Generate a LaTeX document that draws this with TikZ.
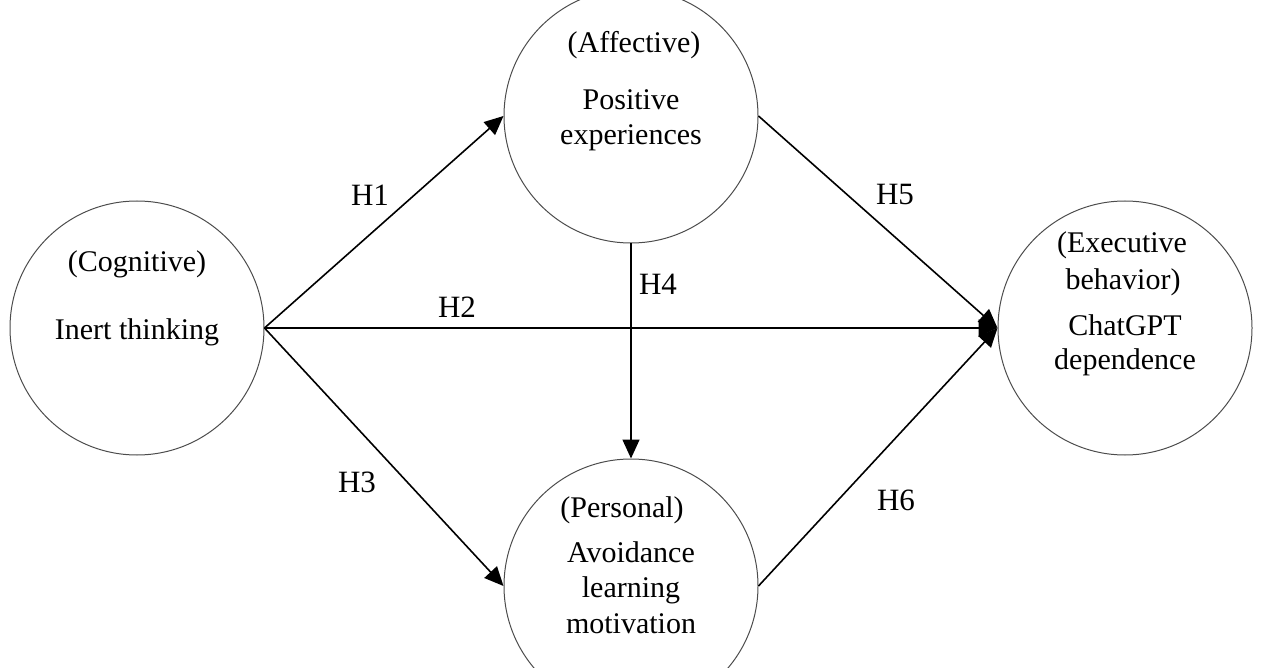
\documentclass[tikz,border=0pt]{standalone}
\usepackage{fontspec}
\setmainfont{Liberation Serif}
\usetikzlibrary{arrows.meta}
\begin{document}
\begin{tikzpicture}[x=1pt,y=-1pt,
  construct/.style={circle,draw=black!70,line width=1pt,minimum size=254pt,inner sep=0pt},
  txt/.style={anchor=base,font=\fontsize{30}{35}\selectfont,inner sep=0pt},
  hyp/.style={font=\fontsize{31}{35}\selectfont,inner sep=0pt},
  path/.style={line width=1.6pt,-{Triangle[length=19pt,width=17pt]}}]
\useasboundingbox (0,0) rectangle (1278,668);
\node[construct] (cog) at (137,328) {};
\node[construct] (aff) at (631,116) {};
\node[construct] (per) at (631,586) {};
\node[construct] (exe) at (1125,328) {};
% texts
\node[txt] (t1) at (137,272) {(Cognitive)};
\node[txt] (t2) at (137,340) {Inert thinking};
\node[txt] (t3) at (634,53) {(Affective)};
\node[txt] (t4) at (631,110) {Positive};
\node[txt] (t5) at (631,145) {experiences};
\node[txt] (t6) at (622,517) {(Personal)};
\node[txt] (t7) at (631,562) {Avoidance};
\node[txt] (t8) at (631,597) {learning};
\node[txt] (t9) at (631,633) {motivation};
\node[txt] (t10) at (1122,253) {(Executive};
\node[txt] (t11) at (1123,290) {behavior)};
\node[txt] (t12) at (1125,336) {ChatGPT};
\node[txt] (t13) at (1125,370) {dependence};
% paths
\draw[path] (cog.east) -- (aff.west);
\draw[path] (cog.east) -- (exe.west);
\draw[path] (cog.east) -- (per.west);
\draw[path] (aff.south) -- (per.north);
\draw[path] (aff.east) -- (exe.west);
\draw[path] (per.east) -- (exe.west);
% labels
\node[hyp] (h1) at (370,195) {H1};
\node[hyp] (h2) at (457,307) {H2};
\node[hyp] (h3) at (357,482) {H3};
\node[hyp] (h4) at (658,284) {H4};
\node[hyp] (h5) at (895,195) {H5};
\node[hyp] (h6) at (896,500) {H6};
\end{tikzpicture}
\end{document}
